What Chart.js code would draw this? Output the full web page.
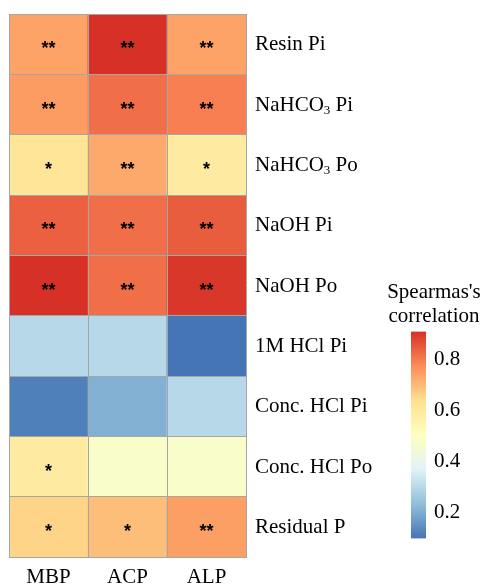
<!DOCTYPE html>
<html lang="en">
<head>
<meta charset="UTF-8">
<title>Spearman correlation heatmap</title>
<script src="https://cdn.jsdelivr.net/npm/chart.js"></script>
<style>
  body{margin:0;background:#fff}
  #wrap{position:relative;width:483px;height:584px;overflow:hidden}
  #heat{position:absolute;left:0;top:0}
  #bar{position:absolute;left:405px;top:311px}
  #keyTitle{position:absolute;left:374px;width:120px;top:279px;text-align:center;
    font:21px/24px "Liberation Serif","Times New Roman",serif;color:#000}
</style>
</head>
<body>
<div id="wrap">
  <canvas id="heat" width="483" height="584"></canvas>
  <canvas id="bar" width="78" height="248"></canvas>
  <div id="keyTitle">Spearmas's<br>correlation</div>
</div>

<script>
// ---- data ----
const cols = ['MBP', 'ACP', 'ALP'];
const rows = ['Resin Pi', 'NaHCO₃ Pi', 'NaHCO₃ Po', 'NaOH Pi', 'NaOH Po',
              '1M HCl Pi', 'Conc. HCl Pi', 'Conc. HCl Po', 'Residual P'];
const mbp = [0.74, 0.75, 0.62, 0.84, 0.91, 0.30, 0.12, 0.59, 0.66];
const acp = [0.91, 0.82, 0.73, 0.82, 0.82, 0.30, 0.21, 0.48, 0.695];
const alp = [0.74, 0.795, 0.59, 0.845, 0.90, 0.10, 0.30, 0.48, 0.745];
const mbpSig = ['**', '**', '*', '**', '**', '', '', '*', '*'];
const acpSig = ['**', '**', '**', '**', '**', '', '', '', '*'];
const alpSig = ['**', '**', '*', '**', '**', '', '', '', '**'];
const legendTicks = [0.2, 0.4, 0.6, 0.8];
const cMin = 0.1, cMax = 0.91;
const palette = ['#4575B4', '#91BFDB', '#E0F3F8', '#FFFFBF', '#FEE090', '#FC8D59', '#D73027'];

const serif = '"Liberation Serif", "Times New Roman", serif';
const lineCol = '#A6A6A6';

// ---- colour ramp ----
const hex = h => [1, 3, 5].map(i => parseInt(h.substr(i, 2), 16));
function colorFor(v) {
  let t = (v - cMin) / (cMax - cMin);
  t = Math.max(0, Math.min(1, t));
  const p = t * (palette.length - 1);
  const i = Math.min(Math.floor(p), palette.length - 2), f = p - i;
  const a = hex(palette[i]), b = hex(palette[i + 1]);
  return 'rgb(' + a.map((c, k) => Math.round(c + (b[k] - c) * f)).join(',') + ')';
}

// label with a subscript 3
function drawSub(ctx, text, x, y) {
  const parts = text.split('₃');
  parts.forEach((p, k) => {
    ctx.font = '21px ' + serif;
    ctx.fillText(p, x, y);
    x += ctx.measureText(p).width;
    if (k < parts.length - 1) {
      ctx.font = '13px ' + serif;
      ctx.fillText('3', x, y + 3.5);
      x += ctx.measureText('3').width;
    }
  });
}

// ---- heatmap ----
const values = [mbp, acp, alp];
const sigs = [mbpSig, acpSig, alpSig];
const datasets = rows.map((r, i) => ({
  label: r,
  data: cols.map(() => 1),
  backgroundColor: values.map(v => colorFor(v[i])),
  stars: sigs.map(s => s[i]),
  borderWidth: 0,
  barPercentage: 1,
  categoryPercentage: 1
}));

const cellText = {
  id: 'cellText',
  afterDraw(chart) {
    const { ctx, chartArea, scales: { x, y } } = chart;
    ctx.save();
    ctx.fillStyle = '#000';
    ctx.textAlign = 'center';
    ctx.font = 'bold 18px "Liberation Sans", Arial, sans-serif';
    chart.data.datasets.forEach((ds, i) => {
      ds.stars.forEach((s, j) => {
        if (s) ctx.fillText(s, x.getPixelForValue(j), y.getPixelForValue(i + 0.5) + 10);
      });
    });
    ctx.font = '21px ' + serif;
    cols.forEach((c, j) => ctx.fillText(c, x.getPixelForValue(j), chartArea.bottom + 26));
    ctx.textAlign = 'left';
    rows.forEach((r, i) => drawSub(ctx, r, chartArea.right + 9, y.getPixelForValue(i + 0.5) + 6));
    ctx.restore();
  }
};

new Chart(document.getElementById('heat'), {
  type: 'bar',
  data: { labels: cols, datasets },
  options: {
    responsive: false,
    animation: false,
    layout: { padding: { left: 9, top: 14, right: 237, bottom: 27 } },
    plugins: { legend: { display: false }, tooltip: { enabled: false } },
    scales: {
      x: {
        stacked: true,
        grid: { offset: true, color: lineCol, drawTicks: false, z: 1 },
        border: { color: lineCol, z: 1 },
        ticks: { display: false }
      },
      y: {
        stacked: true, reverse: true, min: 0, max: rows.length,
        grid: { color: lineCol, drawTicks: false, z: 1 },
        border: { color: lineCol, z: 1 },
        ticks: { display: false, stepSize: 1 }
      }
    }
  },
  plugins: [cellText]
});

// ---- colour key ----
function rampFill(context) {
  const chart = context.chart;
  const y = chart.scales.y;
  if (!chart.chartArea || !y) return palette[0];
  const g = chart.ctx.createLinearGradient(0, y.getPixelForValue(cMin), 0, y.getPixelForValue(cMax));
  palette.forEach((c, i) => g.addColorStop(i / (palette.length - 1), c));
  return g;
}

new Chart(document.getElementById('bar'), {
  type: 'bar',
  data: {
    labels: [''],
    datasets: [{ data: [[cMin, cMax]], backgroundColor: rampFill, borderWidth: 0,
                 barPercentage: 1, categoryPercentage: 1 }]
  },
  options: {
    responsive: false,
    animation: false,
    layout: { padding: { left: 6, top: 7, right: 0, bottom: 12 } },
    plugins: { legend: { display: false }, tooltip: { enabled: false } },
    scales: {
      x: { display: false },
      y: {
        position: 'right', min: cMin, max: cMax,
        grid: { display: false, drawTicks: false },
        border: { display: false },
        afterBuildTicks: s => { s.ticks = legendTicks.map(v => ({ value: v })); },
        afterFit: s => { s.width = 57; },
        ticks: { color: '#000', padding: 8, font: { family: serif, size: 21 },
                 callback: v => v.toFixed(1) }
      }
    }
  }
});
</script>
</body>
</html>
